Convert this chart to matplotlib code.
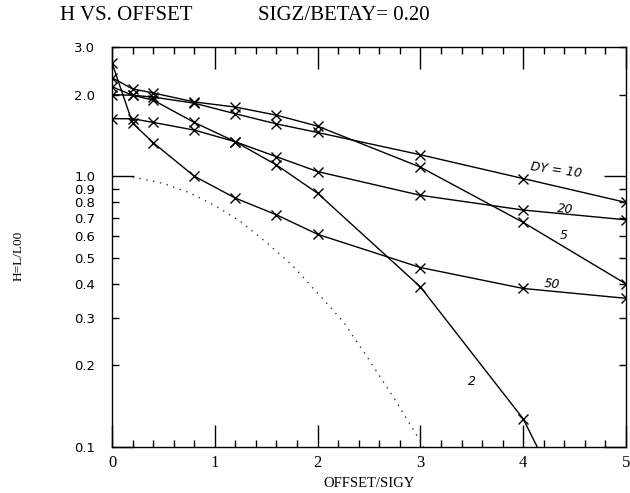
import numpy as np
import matplotlib
matplotlib.use('Agg')
import matplotlib.pyplot as plt
from matplotlib.ticker import MultipleLocator, NullFormatter

# offsets (in units of sigma_y) where H was computed
offset = [0, 0.2, 0.4, 0.8, 1.2, 1.6, 2.0, 3.0, 4.0, 5.0]

h_dy2  = [2.14, 1.99, 1.91, 1.58, 1.34, 1.10, 0.865, 0.39, 0.127, 0.022]
h_dy5  = [2.31, 2.10, 2.03, 1.88, 1.80, 1.68, 1.53, 1.08, 0.675, 0.40]
h_dy10 = [2.00, 1.99, 1.96, 1.86, 1.70, 1.56, 1.45, 1.20, 0.98, 0.80]
h_dy20 = [1.63, 1.63, 1.58, 1.48, 1.34, 1.18, 1.04, 0.85, 0.75, 0.69]
h_dy50 = [2.62, 1.57, 1.33, 1.00, 0.83, 0.72, 0.61, 0.46, 0.385, 0.354]

# dotted reference curve (no disruption)
geo_x = [0.2, 0.25, 0.5, 0.75, 1.0, 1.25, 1.5, 1.75, 2.0, 2.25, 2.5, 2.75, 3.0, 3.1]
geo_h = [0.99, 0.985, 0.94, 0.87, 0.78, 0.68, 0.57, 0.47, 0.37, 0.29, 0.21, 0.15, 0.105, 0.09]

yticks = [0.1, 0.2, 0.3, 0.4, 0.5, 0.6, 0.7, 0.8, 0.9, 1.0, 2.0, 3.0]
ytick_labels = ['0.1', '0.2', '0.3', '0.4', '0.5', '0.6', '0.7', '0.8', '0.9', '1.0', '2.0', '3.0']

serif = 'Liberation Serif'
sans = 'DejaVu Sans'

fig = plt.figure(figsize=(6.3, 4.93), dpi=100)
ax = fig.add_axes([0.1778, 0.0933, 0.8159, 0.8114])

for h in [h_dy2, h_dy5, h_dy10, h_dy20, h_dy50]:
    ax.plot(offset, h, '-', color='black', lw=1.0, marker='x', ms=7, mew=1.0)

ax.plot(geo_x, geo_h, color='#333333', lw=1.0, linestyle=(0, (1, 4)))

ax.set_yscale('log')
ax.set_xlim(0, 5)
ax.set_ylim(0.1, 3.0)

# long ticks only at the decades, short ones elsewhere
ax.set_yticks([0.1, 1.0], ['0.1', '1.0'])
ax.set_yticks([t for t in yticks if t not in (0.1, 1.0)],
              [l for t, l in zip(yticks, ytick_labels) if t not in (0.1, 1.0)], minor=True)
ax.xaxis.set_major_locator(MultipleLocator(1))
ax.xaxis.set_minor_locator(MultipleLocator(0.2))
ax.xaxis.set_minor_formatter(NullFormatter())

ax.tick_params(which='both', direction='in', top=True, right=True, width=1.0, color='black')
ax.tick_params(which='major', length=16)
ax.tick_params(which='minor', length=5)
ax.tick_params(axis='y', which='both', pad=12, labelsize=9.5)
ax.tick_params(axis='x', which='major', pad=6, labelsize=12)
for lbl in ax.get_xticklabels():
    lbl.set_fontfamily(serif)
for lbl in ax.get_yticklabels(which='both'):
    lbl.set_fontfamily(sans)

for s in ax.spines.values():
    s.set_linewidth(1.0)

# curve labels
lab = dict(fontsize=9, style='italic', family=sans)
ax.text(4.32, 1.05, 'DY = 10', rotation=-8, ha='center', va='center', **lab)
ax.text(4.41, 0.755, '20', rotation=-5, ha='center', va='center', **lab)
ax.text(4.39, 0.605, '5', ha='center', va='center', **lab)
ax.text(4.28, 0.40, '50', rotation=-5, ha='center', va='center', **lab)
ax.text(3.5, 0.174, '2', ha='center', va='center', **lab)

ax.set_xlabel('OFFSET/SIGY', fontsize=10.5, family=serif, labelpad=4)
fig.text(0.03, 0.48, 'H=L/L00', rotation=90, ha='center', va='center', fontsize=9.5, family=serif)

fig.text(0.095, 0.968, 'H VS. OFFSET', ha='left', va='center', fontsize=15, family=serif)
fig.text(0.41, 0.968, 'SIGZ/BETAY= 0.20', ha='left', va='center', fontsize=15, family=serif)

fig.savefig('out.png', dpi=100)
